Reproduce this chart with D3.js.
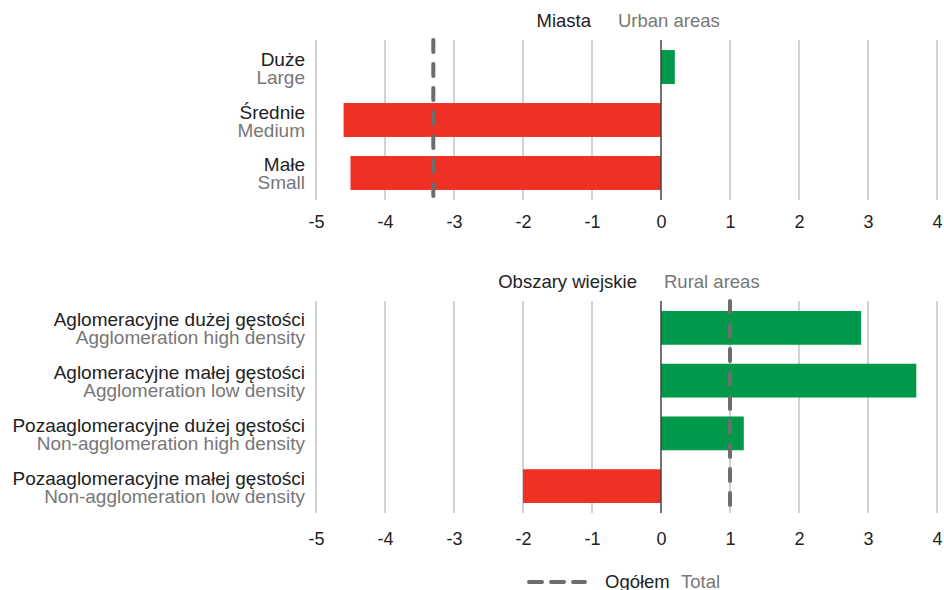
<!DOCTYPE html>
<html><head><meta charset="utf-8">
<script src="https://cdn.jsdelivr.net/npm/d3@7"></script>
<style>body{margin:0;background:#fff}svg{display:block;font-family:"Liberation Sans",Arial,sans-serif}</style>
</head><body><svg id="c" width="944" height="590"></svg>
<script>
const ticks = [-5,-4,-3,-2,-1,0,1,2,3,4];
const urbanPL = ["Duże","Średnie","Małe"];
const urbanEN = ["Large","Medium","Small"];
const urbanVals = [0.2,-4.6,-4.5];
const urbanTotal = -3.3;
const ruralPL = ["Aglomeracyjne dużej gęstości","Aglomeracyjne małej gęstości","Pozaaglomeracyjne dużej gęstości","Pozaaglomeracyjne małej gęstości"];
const ruralEN = ["Agglomeration high density","Agglomeration low density","Non-agglomeration high density","Non-agglomeration low density"];
const ruralVals = [2.9,3.7,1.2,-2.0];
const ruralTotal = 1.0;

const svg = d3.select("#c");
const x = d3.scaleLinear().domain([-5,4]).range([316,937]);
const RED="#ee3124", GREEN="#00984a", DARK="#222", GREY="#777";
const LBL=19, TTL=18.5, TCK=18;

function panel(pl,en,vals,total,y0,y1,titlePL,titleEN,titleY,titlePLend,titleENstart,tickY){
  const g = svg.append("g");
  const y = d3.scaleBand().domain(pl).range([y0,y1]).paddingInner(0.36).paddingOuter(0.19);
  g.selectAll("line.grid").data(ticks.filter(t=>t!==0)).join("line")
    .attr("x1",d=>x(d)).attr("x2",d=>x(d)).attr("y1",y0).attr("y2",y1)
    .attr("stroke","#b4b4b4").attr("stroke-width",1.2);
  g.selectAll("rect").data(vals).join("rect")
    .attr("x",d=>x(Math.min(0,d))).attr("width",d=>Math.abs(x(d)-x(0)))
    .attr("y",(d,i)=>y(pl[i])).attr("height",y.bandwidth())
    .attr("fill",d=>d>=0?GREEN:RED);
  g.append("line").attr("x1",x(0)).attr("x2",x(0)).attr("y1",y0).attr("y2",y1)
    .attr("stroke","#444").attr("stroke-width",1.5);
  g.append("line").attr("x1",x(total)).attr("x2",x(total)).attr("y1",y0).attr("y2",y1)
    .attr("stroke","#6d6d6e").attr("stroke-width",4).attr("stroke-linecap","round")
    .attr("stroke-dasharray","12,12");
  pl.forEach((p,i)=>{
    const c = y(p)+y.bandwidth()/2;
    g.append("text").attr("x",305).attr("y",c-1.5).attr("text-anchor","end")
      .attr("font-size",LBL).attr("fill",DARK).text(p);
    g.append("text").attr("x",305).attr("y",c+16.5).attr("text-anchor","end")
      .attr("font-size",LBL).attr("fill",GREY).text(en[i]);
  });
  const ax = g.append("g").attr("transform",`translate(0,${tickY})`)
    .call(d3.axisBottom(x).tickValues(ticks).tickSize(0).tickPadding(0).tickFormat(d=>String(d)));
  ax.select(".domain").remove();
  ax.selectAll("text").attr("font-size",TCK).attr("fill",DARK).attr("dy",0)
    .attr("font-family","'Liberation Sans',Arial,sans-serif");
  g.append("text").attr("x",titlePLend).attr("y",titleY).attr("text-anchor","end")
    .attr("font-size",TTL).attr("fill",DARK).text(titlePL);
  g.append("text").attr("x",titleENstart).attr("y",titleY)
    .attr("font-size",TTL).attr("fill",GREY).text(titleEN);
}

panel(urbanPL,urbanEN,urbanVals,urbanTotal,40,200,"Miasta","Urban areas",27,591,618,228);
panel(ruralPL,ruralEN,ruralVals,ruralTotal,301,513,"Obszary wiejskie","Rural areas",288,637,664,545);

svg.append("line").attr("x1",529).attr("x2",585).attr("y1",582).attr("y2",582)
  .attr("stroke","#6d6d6e").attr("stroke-width",4).attr("stroke-linecap","round")
  .attr("stroke-dasharray","13,9");
svg.append("text").attr("x",605).attr("y",588).attr("font-size",TTL).attr("fill",DARK).text("Ogółem");
svg.append("text").attr("x",681).attr("y",588).attr("font-size",TTL).attr("fill",GREY).text("Total");
</script></body></html>
